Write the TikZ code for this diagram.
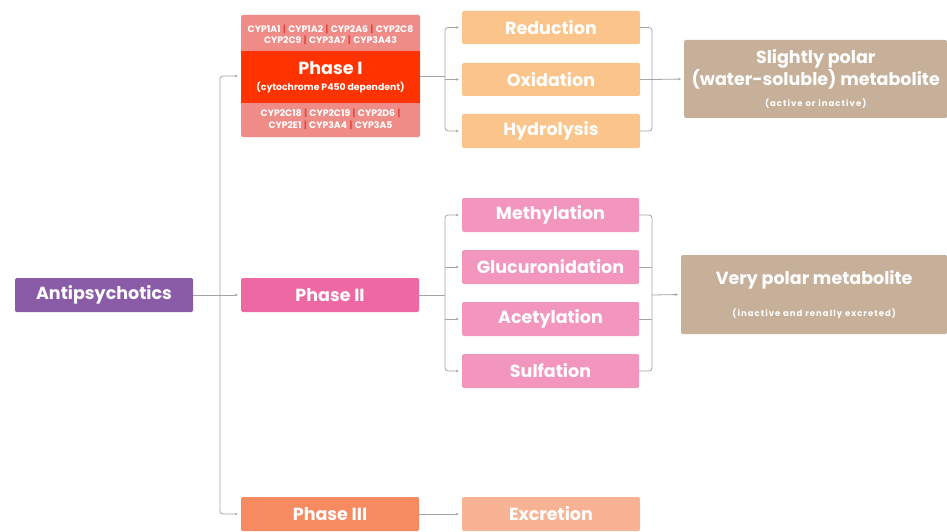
\documentclass[tikz,border=0pt]{standalone}
\usepackage{fontspec}
\setmainfont{Poppins}
\usetikzlibrary{arrows.meta}
\definecolor{cpurple}{RGB}{138,92,168}
\definecolor{cp1light}{RGB}{240,140,135}
\definecolor{cp1red}{RGB}{255,51,0}
\definecolor{cp1sep}{RGB}{225,70,60}
\definecolor{cp2}{RGB}{238,105,163}
\definecolor{cp3}{RGB}{246,138,96}
\definecolor{cpeach}{RGB}{251,196,138}
\definecolor{cpink}{RGB}{242,150,190}
\definecolor{cexc}{RGB}{248,178,148}
\definecolor{ctan}{RGB}{199,176,154}
\definecolor{cline}{RGB}{165,165,165}
\tikzset{
  box/.style={rounded corners=1.5, inner sep=0pt, text=white, font=\fontsize{17.5}{19}\selectfont\bfseries, align=center},
  cyp/.style={text=white, font=\fontsize{9.3}{11.5}\selectfont\bfseries, align=center, inner sep=0pt},
  conn/.style={draw=cline, line width=0.8pt},
  arr/.style={conn, -{Stealth[length=3pt,width=2.6pt]}, shorten >=3pt},
  darr/.style={conn, {Stealth[length=3pt,width=2.6pt]}-{Stealth[length=3pt,width=2.6pt]}, shorten >=3pt, shorten <=3pt},
}
\newcommand{\sep}{\hspace{2.5pt}{\color{cp1sep}|}\hspace{2.5pt}}
\newcommand{\smalltxt}[1]{{\fontsize{8.5}{10}\selectfont\addfontfeatures{LetterSpace=12}#1}}
\begin{document}
\begin{tikzpicture}[x=1pt,y=-1pt]
\useasboundingbox[fill=white] (0,0) rectangle (947,532);
% left column
\node[box, fill=cpurple, minimum width=178, minimum height=34] (anti) at (104,295) {Antipsychotics};
% Phase I
\node[box, fill=cp1light, minimum width=179, minimum height=122] (p1) at (330.5,76) {};
\node[fill=cp1red, minimum width=179, minimum height=52, inner sep=0pt, text=white, align=center] (p1band) at (330.5,77)
  {{\fontsize{17.5}{19}\selectfont\bfseries Phase I}\\[4pt]{\fontsize{9.3}{11}\selectfont\bfseries (cytochrome P450 dependent)}};
\node[cyp] (cypa) at (330.5,35) {CYP1A1\sep CYP1A2\sep CYP2A6\sep CYP2C8\\CYP2C9\sep CYP3A7\sep CYP3A43};
\node[cyp] (cypb) at (330.5,119.5) {CYP2C18\sep CYP2C19\sep CYP2D6\sep\\CYP2E1\sep CYP3A4\sep CYP3A5};
\node[box, fill=cp2, minimum width=178, minimum height=34] (p2) at (330,295) {Phase II};
\node[box, fill=cp3, minimum width=178, minimum height=34] (p3) at (330,514) {Phase III};
% Phase I reactions
\node[box, fill=cpeach, minimum width=178, minimum height=33] (red) at (551,27.5) {Reduction};
\node[box, fill=cpeach, minimum width=178, minimum height=33] (ox) at (551,79.5) {Oxidation};
\node[box, fill=cpeach, minimum width=178, minimum height=34] (hyd) at (551,131) {Hydrolysis};
% Phase II reactions
\node[box, fill=cpink, minimum width=177, minimum height=34] (meth) at (550.5,215) {Methylation};
\node[box, fill=cpink, minimum width=177, minimum height=34] (gluc) at (550.5,267) {Glucuronidation};
\node[box, fill=cpink, minimum width=177, minimum height=34] (acet) at (550.5,319) {Acetylation};
\node[box, fill=cpink, minimum width=177, minimum height=34] (sulf) at (550.5,371) {Sulfation};
\node[box, fill=cexc, minimum width=178, minimum height=34] (exc) at (551,514) {Excretion};
% metabolites
\node[box, fill=ctan, minimum width=263, minimum height=78, anchor=west] (sp) at (684,79)
  {Slightly polar\\(water-soluble) metabolite\\[2pt]\smalltxt{(active or inactive)}};
\node[box, fill=ctan, minimum width=266, minimum height=79, anchor=west] (vp) at (681,294.5)
  {Very polar metabolite\\[13pt]\smalltxt{(inactive and renally excreted)}};
% connectors
\coordinate (tr) at (220,0);
\coordinate (bl) at (445,0);
\coordinate (br) at (652,0);
\draw[arr] (anti.east) -- (p2.west);
\draw[darr, rounded corners=3] (p1.west) -- (tr |- p1.west) -- (tr |- p3.west) -- (p3.west);
\draw[arr] (p3.east) -- (exc.west);
% phase I bracket
\draw[conn] (p1.east) -- (bl |- p1.east);
\draw[darr, rounded corners=3] (red.west) -- (bl |- red.west) -- (bl |- hyd.west) -- (hyd.west);
\draw[arr] (bl |- ox.west) -- (ox.west);
\draw[conn, rounded corners=3] (red.east) -- (br |- red.east) -- (br |- hyd.east) -- (hyd.east);
\draw[conn] (ox.east) -- (br |- ox.east);
\draw[arr] (br |- ox.east) -- (sp.west);
% phase II bracket
\draw[conn] (p2.east) -- (bl |- p2.east);
\draw[darr, rounded corners=3] (meth.west) -- (bl |- meth.west) -- (bl |- sulf.west) -- (sulf.west);
\draw[arr] (bl |- gluc.west) -- (gluc.west);
\draw[arr] (bl |- acet.west) -- (acet.west);
\draw[conn, rounded corners=3] (meth.east) -- (br |- meth.east) -- (br |- sulf.east) -- (sulf.east);
\draw[conn] (gluc.east) -- (br |- gluc.east);
\draw[conn] (acet.east) -- (br |- acet.east);
\draw[arr] (br |- p2.east) -- (vp.west);
\end{tikzpicture}
\end{document}
